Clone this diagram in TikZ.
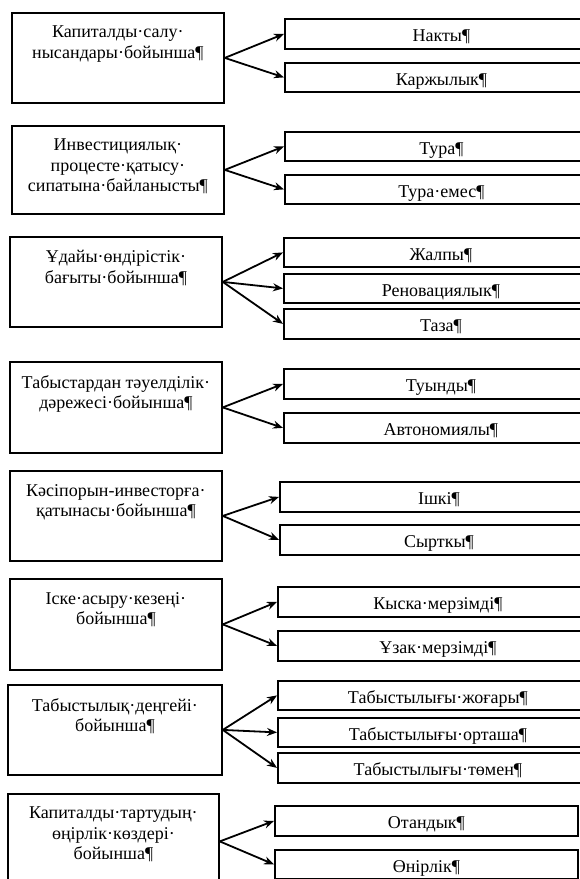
\documentclass[tikz,border=0pt]{standalone}
\usepackage{fontspec}
\setmainfont{Liberation Serif}
\usetikzlibrary{arrows.meta, backgrounds}
\tikzstyle{criterion} = [rectangle, anchor=north west, minimum width=212pt, minimum height=90pt, inner sep=0pt, draw=black, line width=1.8pt, fill=white]
\tikzstyle{crittext} = [anchor=north, yshift=-14pt, inner sep=0pt, align=center]
\tikzstyle{kind} = [rectangle, anchor=north west, minimum height=30pt, inner sep=0pt, text height=16pt, text depth=0pt, draw=black, line width=1.8pt, fill=white]
\tikzstyle{arrow} = [-{Stealth[length=10pt, width=8pt]}, line width=1.8pt]

\begin{document}
\begin{tikzpicture}[x=1pt, y=-1pt, font=\fontsize{18}{20.5}\selectfont, background rectangle/.style={fill=white}, show background rectangle, inner frame sep=0pt]

    \useasboundingbox (0, 0) rectangle (579, 879);

    \node (crit1) [criterion, label={[crittext]north:{Капиталды·салу·\\нысандары·бойынша¶}}] at (11, 12) {};
    \node (nakty) [kind, minimum width=313pt] at (284, 18) {Накты¶};
    \node (karzh) [kind, minimum width=313pt, minimum height=29pt] at (284, 62) {Каржылык¶};

    \node (crit2) [criterion, minimum height=88pt, label={[crittext]north:{Инвестициялық·\\процесте·қатысу·\\сипатына·байланысты¶}}] at (11, 125) {};
    \node (tura) [kind, minimum width=313pt, minimum height=29pt] at (284, 131) {Тура¶};
    \node (turaemes) [kind, minimum width=313pt, minimum height=29pt] at (284, 174) {Тура·емес¶};

    \node (crit3) [criterion, label={[crittext]north:{Ұдайы·өндірістік·\\бағыты·бойынша¶}}] at (9, 236) {};
    \node (zhalpy) [kind, minimum width=314pt, minimum height=29pt] at (283, 237) {Жалпы¶};
    \node (renov) [kind, minimum width=314pt, minimum height=29pt] at (283, 273) {Реновациялык¶};
    \node (taza) [kind, minimum width=314pt] at (283, 308) {Таза¶};

    \node (crit4) [criterion, minimum height=91pt, label={[crittext]north:{Табыстардан тәуелділік·\\дәрежесі·бойынша¶}}] at (9, 361) {};
    \node (tuyndy) [kind, minimum width=314pt] at (283, 368) {Туынды¶};
    \node (avton) [kind, minimum width=314pt] at (283, 412) {Автономиялы¶};

    \node (crit5) [criterion, label={[crittext]north:{Кәсіпорын-инвесторға·\\қатынасы·бойынша¶}}] at (9, 470) {};
    \node (ishki) [kind, minimum width=318pt] at (279, 481) {Ішкі¶};
    \node (syrtky) [kind, minimum width=318pt] at (279, 524) {Сырткы¶};

    \node (crit6) [criterion, minimum height=91pt, label={[crittext]north:{Іске·асыру·кезеңі·\\бойынша¶}}] at (9, 578) {};
    \node (kyska) [kind, minimum width=320pt] at (277, 586) {Кыска·мерзімді¶};
    \node (uzak) [kind, minimum width=320pt] at (277, 630) {Ұзак·мерзімді¶};

    \node (crit7) [criterion, minimum width=214pt, label={[crittext]north:{Табыстылық·деңгейі·\\бойынша¶}}] at (7, 684) {};
    \node (zhogary) [kind, minimum width=320pt, minimum height=29pt] at (277, 680) {Табыстылығы·жоғары¶};
    \node (ortasha) [kind, minimum width=320pt, minimum height=29pt] at (277, 717) {Табыстылығы·орташа¶};
    \node (tomen) [kind, minimum width=320pt] at (277, 752) {Табыстылығы·төмен¶};

    \node (crit8) [criterion, minimum width=211pt, minimum height=95pt, label={[crittext]north:{Капиталды·тартудың·\\өңірлік·көздері·\\бойынша¶}}] at (7, 793) {};
    \node (otandyk) [kind, minimum width=303pt] at (274, 805) {Отандык¶};
    \node (onirlik) [kind, minimum width=303pt, minimum height=29pt] at (274, 849) {Өнірлік¶};

    \draw [arrow] (crit1.east) -- (nakty.west);
    \draw [arrow] (crit1.east) -- (karzh.west);
    \draw [arrow] (crit2.east) -- (tura.west);
    \draw [arrow] (crit2.east) -- (turaemes.west);
    \draw [arrow] (crit3.east) -- (zhalpy.west);
    \draw [arrow] (crit3.east) -- (renov.west);
    \draw [arrow] (crit3.east) -- (taza.west);
    \draw [arrow] (crit4.east) -- (tuyndy.west);
    \draw [arrow] (crit4.east) -- (avton.west);
    \draw [arrow] (crit5.east) -- (ishki.west);
    \draw [arrow] (crit5.east) -- (syrtky.west);
    \draw [arrow] (crit6.east) -- (kyska.west);
    \draw [arrow] (crit6.east) -- (uzak.west);
    \draw [arrow] (crit7.east) -- (zhogary.west);
    \draw [arrow] (crit7.east) -- (ortasha.west);
    \draw [arrow] (crit7.east) -- (tomen.west);
    \draw [arrow] (crit8.east) -- (otandyk.west);
    \draw [arrow] (crit8.east) -- (onirlik.west);

\end{tikzpicture}
\end{document}
